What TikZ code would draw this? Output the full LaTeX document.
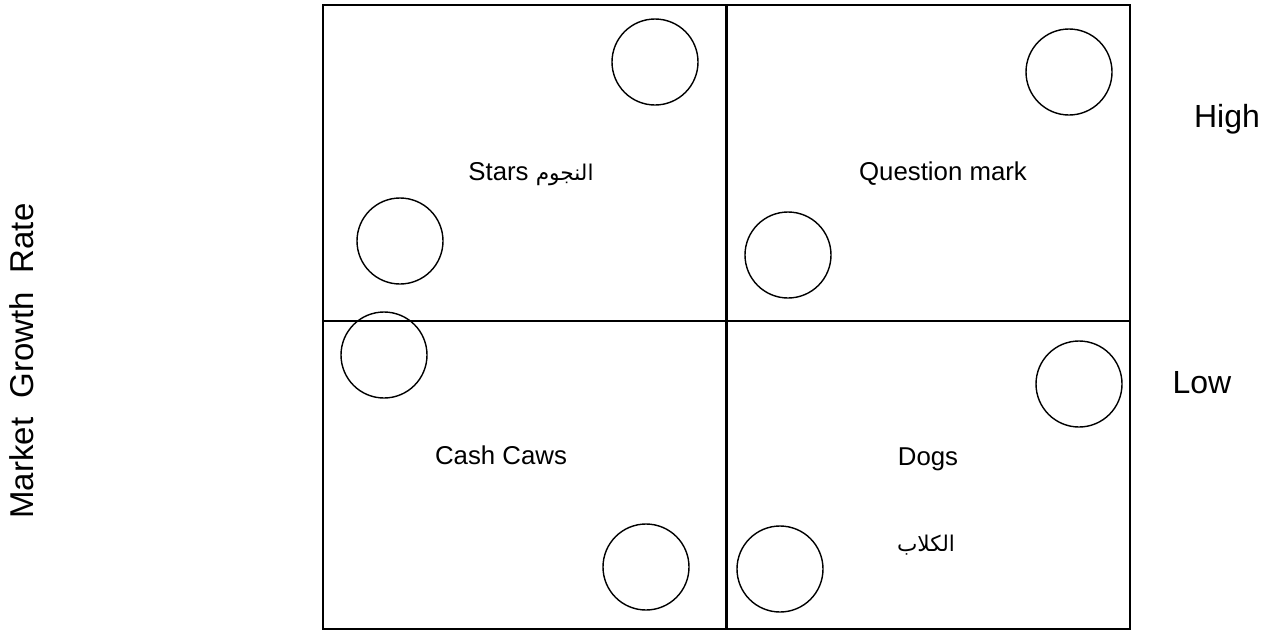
\documentclass[tikz,border=0pt]{standalone}
\usepackage{fontspec}
\setmainfont{Liberation Sans}
\newfontfamily\arabicfont[Script=Arabic,Scale=0.84]{DejaVu Sans}
\TeXXeTstate=1
\usetikzlibrary{positioning}

\begin{document}
\begin{tikzpicture}[
  x=1pt, y=-1pt,
  quad/.style={draw, line width=1.6pt, minimum width=403pt, inner sep=0pt},
  bubble/.style={draw, circle, line width=1.4pt, minimum size=86pt, inner sep=0pt},
  qlabel/.style={font=\fontsize{25.8}{30}\selectfont, anchor=base, inner sep=0pt},
  side/.style={font=\fontsize{32}{38}\selectfont, anchor=base, inner sep=0pt}
]
\useasboundingbox (0,0) rectangle (1271,632);
% the four quadrants
\node[quad, minimum height=316pt] (stars) at (524.5,163) {};
\node[quad, minimum height=316pt] (question) at (928.5,163) {};
\node[quad, minimum height=308pt] (cash) at (524.5,475) {};
\node[quad, minimum height=308pt] (dogs) at (928.5,475) {};

\node[bubble] (starsA) at (655,62) {};
\node[bubble] (starsB) at (400,241) {};
\node[bubble] (questionA) at (1069,72) {};
\node[bubble] (questionB) at (788,255) {};
\node[bubble] (cashA) at (384,355) {};
\node[bubble] (cashB) at (646,567) {};
\node[bubble] (dogsA) at (1079,384) {};
\node[bubble] (dogsB) at (780,569) {};

\node[qlabel] (starsText) at (531,180) {Stars {\arabicfont\beginR النجوم\endR}};
\node[qlabel] (questionText) at (943,180) {Question mark};
\node[qlabel] (cashText) at (501,464) {Cash Caws};
\node[qlabel] (dogsText) at (928,465) {Dogs};
\node[qlabel] (dogsArabic) at (926,551) {\arabicfont\beginR الكلاب\endR};

\node[side] (high) at (1227,127) {High};
\node[side] (low) at (1202,393) {Low};
\node[side, font=\fontsize{33}{38}\selectfont, rotate=90] (growth) at (33,361) {Market\hspace{0.3em} Growth\hspace{0.3em} Rate};
\end{tikzpicture}
\end{document}
